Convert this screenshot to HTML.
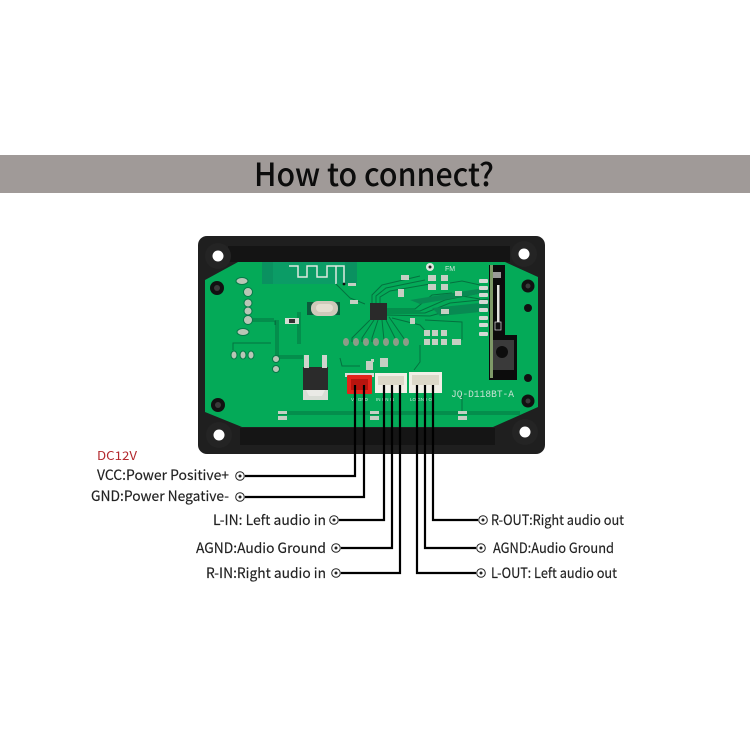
<!DOCTYPE html>
<html><head><meta charset="utf-8"><style>
html,body{margin:0;padding:0;background:#fff}
svg{display:block}
.l{font-family:"Noto Sans CJK SC","Liberation Sans",sans-serif;font-size:14px;fill:#222;font-weight:400;stroke:#222;stroke-width:.15}
.s{font-family:"Liberation Sans",sans-serif;font-size:4.5px;fill:#cfe9dc}
</style></head><body>
<svg width="750" height="750" viewBox="0 0 750 750" xmlns="http://www.w3.org/2000/svg">
<rect width="750" height="750" fill="#fff"/>
<rect x="0" y="155" width="750" height="38" fill="#a09a98"/>
<text x="254" y="186" font-family="Noto Sans CJK SC,Liberation Sans,sans-serif" font-size="32" font-weight="500" fill="#0c0c0c" textLength="240" lengthAdjust="spacingAndGlyphs">How to connect?</text>

<!-- enclosure -->
<rect x="198" y="236" width="347" height="218" rx="9" fill="#1f1f1f"/>
<rect x="228" y="246" width="282" height="16" fill="#141414"/>
<rect x="240" y="428" width="255" height="17" fill="#151515"/>
<circle cx="218" cy="256" r="13" fill="#242424"/><circle cx="524" cy="254" r="13" fill="#242424"/>
<circle cx="219" cy="435" r="13" fill="#242424"/><circle cx="525" cy="432" r="13" fill="#242424"/>
<circle cx="218" cy="256" r="5.5" fill="#fff"/><circle cx="524" cy="254" r="5.5" fill="#fff"/>
<circle cx="219" cy="435" r="5.5" fill="#fff"/><circle cx="525" cy="432" r="5.5" fill="#fff"/>

<!-- PCB -->
<polygon points="238,262 505,262 538,277 538,407 493,427 242,427 205,412 205,280" fill="#04aa58"/>
<rect x="262" y="262" width="95" height="22" fill="#0a9160"/>
<rect x="273" y="262" width="72" height="22" fill="#0b9c66"/>
<polyline points="289,266 298,266 298,277 307,277 307,266 317,266 317,277 327,277 327,266 344,266 344,284" fill="none" stroke="#dfe8e0" stroke-width="1.5"/>
<line x1="336" y1="266" x2="336" y2="284" stroke="#dfe8e0" stroke-width="1.5"/>
<circle cx="344" cy="284" r="1.4" fill="#111"/>

<!-- dark traces -->
<g fill="none" stroke="#05713f" stroke-width="1">
<polyline points="336,284 350,298 365,304"/>
<polyline points="249,321 275,321 275,325"/>
<polyline points="249,319 274,319"/>
<polyline points="276,320 276,358 303,358"/>
<polyline points="278,320 278,356 303,356"/>
<polyline points="298,312 298,344"/>
<polyline points="300,312 300,344"/>
<polyline points="233,350 233,343 271,343"/>
<polyline points="387,311 420,311 445,300 490,291"/>
<polyline points="387,313 425,313 450,303 490,299"/>
<polyline points="387,309 415,309 432,295 452,293"/>
<polyline points="387,315 430,316 455,309 480,308"/>
<polyline points="372,303 372,295 382,285 420,276"/>
<polyline points="376,303 376,296 386,288 425,280"/>
<polyline points="380,303 380,297 390,291 430,284"/>
<polyline points="370,320 352,338 352,342"/>
<polyline points="374,320 362,338 362,342"/>
<polyline points="378,320 372,338 372,342"/>
<polyline points="382,320 384,340"/>
<polyline points="386,320 396,340"/>
<polyline points="389,317 405,340"/>
<polyline points="392,318 420,325 430,336"/>
<polyline points="425,320 462,322 462,340"/>
<polyline points="420,345 420,362 414,370"/>
<polyline points="340,358 342,366 360,366"/>
<polyline points="278,414 520,414"/>
<polyline points="278,412 520,412"/>
<polyline points="462,395 462,412"/>
<polyline points="480,285 462,281 450,283"/>
<polyline points="480,299 462,296"/>
</g>
<polygon points="410,300 490,287 490,292 420,304" fill="#088a52"/>
<polygon points="432,308 490,302 490,311 440,316" fill="#088a52"/>

<!-- FFC connector & dark slot -->
<polygon points="489,265 505,265 505,335 517,335 517,380 489,380" fill="#0c0c0c"/>
<rect x="490" y="265" width="3" height="113" fill="#7f9a68"/>
<rect x="493" y="272" width="8" height="6" fill="#9a9a98"/>
<rect x="497" y="285" width="2.5" height="37" fill="#e4e4e0"/>
<rect x="495" y="322" width="6" height="8" fill="#111" stroke="#ddd" stroke-width=".7"/>
<g fill="#d4d9d4"><rect x="479" y="279" width="9" height="4" rx="1"/><rect x="479" y="286" width="9" height="4" rx="1"/><rect x="479" y="293" width="9" height="4" rx="1"/><rect x="479" y="300" width="9" height="4" rx="1"/><rect x="479" y="308" width="9" height="4" rx="1"/><rect x="479" y="316" width="9" height="4" rx="1"/><rect x="479" y="323" width="9" height="4" rx="1"/><rect x="479" y="332" width="9" height="4" rx="1"/></g>
<rect x="493" y="340" width="21" height="30" fill="#3a3a3a"/>
<circle cx="502" cy="352" r="6" fill="#0d0d0d"/>

<!-- screws -->
<g fill="#111"><circle cx="217" cy="288" r="7"/><circle cx="528" cy="286" r="6.5"/><circle cx="528" cy="308" r="4"/><circle cx="218" cy="405" r="7"/><circle cx="528" cy="401" r="6.5"/><circle cx="528" cy="378" r="4"/></g>
<g fill="#3a3a3a"><circle cx="217" cy="288" r="3"/><circle cx="528" cy="286" r="2.5"/><circle cx="218" cy="405" r="3"/><circle cx="528" cy="401" r="2.5"/></g>

<!-- pads left -->
<g fill="#b9c6b6" stroke="#067a48" stroke-width="1">
<circle cx="248" cy="292" r="4.5"/><circle cx="248" cy="303" r="4"/><circle cx="248" cy="311" r="4"/><circle cx="248" cy="320" r="4.5"/>
<ellipse cx="242" cy="281" rx="6" ry="3.5"/><ellipse cx="243" cy="332" rx="6" ry="3.5"/>
<ellipse cx="234" cy="355" rx="3" ry="4"/><ellipse cx="243" cy="355" rx="3" ry="4"/><ellipse cx="251" cy="355" rx="3" ry="4"/>
<circle cx="276" cy="359" r="3.5"/><circle cx="276" cy="369" r="3.5"/>
</g>
<g fill="#8d9c88"><ellipse cx="346" cy="342" rx="3" ry="4"/><ellipse cx="356" cy="342" rx="3" ry="4"/><ellipse cx="366" cy="342" rx="3" ry="4"/><ellipse cx="376" cy="342" rx="3" ry="4"/><ellipse cx="386" cy="342" rx="3" ry="4"/><ellipse cx="396" cy="342" rx="3" ry="4"/><ellipse cx="406" cy="342" rx="3" ry="4"/></g>

<!-- crystal -->
<rect x="307" y="302" width="33" height="13" fill="#0c5a3c"/>
<rect x="311" y="301" width="27" height="15" rx="7" fill="#cfc9ba"/>
<rect x="316" y="304" width="17" height="8" rx="4" fill="#e4ded0"/>
<rect x="285" y="318" width="14" height="6" fill="#d4dcd2"/><rect x="289" y="319" width="6" height="4" fill="#333"/>

<!-- IC -->
<rect x="370" y="303" width="17" height="17" fill="#2a2a2a"/>

<!-- small SMDs -->
<g fill="#c5cfc3"><rect x="348" y="283" width="8" height="3"/><rect x="350" y="300" width="8" height="4"/>
<rect x="428" y="275" width="8" height="6"/><rect x="428" y="284" width="8" height="6"/><rect x="441" y="275" width="7" height="6"/><rect x="441" y="284" width="7" height="6"/>
<rect x="401" y="275" width="8" height="5"/><rect x="398" y="289" width="6" height="8"/><rect x="455" y="291" width="7" height="5"/><rect x="441" y="309" width="8" height="5"/>
<rect x="410" y="318" width="5" height="6"/><rect x="424" y="330" width="6" height="6"/><rect x="432" y="330" width="6" height="6"/><rect x="441" y="330" width="6" height="6"/><rect x="424" y="339" width="6" height="6"/><rect x="432" y="339" width="6" height="6"/><rect x="441" y="339" width="6" height="6"/><rect x="452" y="339" width="9" height="6"/>
<rect x="278" y="411" width="9" height="3"/><rect x="278" y="416" width="9" height="4"/><rect x="370" y="411" width="9" height="3"/><rect x="370" y="416" width="9" height="4"/><rect x="458" y="411" width="9" height="3"/><rect x="458" y="416" width="9" height="4"/>
<rect x="366" y="361" width="7" height="9"/><rect x="371" y="359" width="3" height="3"/><rect x="380" y="358" width="8" height="9"/></g>
<circle cx="430" cy="267" r="4" fill="#e0e6df"/><circle cx="430" cy="267" r="1.5" fill="#222"/>
<text x="445" y="271" font-family="Liberation Sans,sans-serif" font-size="7" fill="#d4e8dc">FM</text>

<!-- MOSFET -->
<rect x="303" y="367" width="25" height="33" fill="#d9ddd6"/>
<rect x="303" y="367" width="25" height="23" fill="#2b2b2b"/>
<polygon points="306,390 325,390 322,396 309,396" fill="#eaeae6"/>
<rect x="304" y="355" width="5" height="13" fill="#cfd4cd"/><rect x="322" y="355" width="5" height="13" fill="#cfd4cd"/>

<!-- connectors -->
<rect x="345" y="373" width="29" height="4" fill="#d9ded8"/>
<rect x="347" y="375" width="25" height="19" rx="1" fill="#e2231a"/>
<rect x="351" y="379" width="17" height="11" fill="#b8140e"/>
<rect x="375" y="373" width="32" height="20" fill="#f1efe6"/>
<rect x="378" y="376" width="26" height="9" fill="#dcd8c8"/>
<rect x="409" y="372" width="33" height="21" fill="#f1efe6"/>
<rect x="412" y="375" width="27" height="10" fill="#dcd8c8"/>

<text x="451" y="397" font-family="Liberation Mono,monospace" font-size="10" fill="#c5e2d2" textLength="63" lengthAdjust="spacingAndGlyphs">JQ-D118BT-A</text>
<text class="s" x="351" y="401">V+ GND</text><text class="s" x="376" y="401">IN GN IN</text><text class="s" x="410" y="401">LO GND O</text>

<!-- wires -->
<g fill="none" stroke="#000" stroke-width="2.2">
<polyline points="245,476 355,476 355,385"/>
<polyline points="245,497 364,497 364,385"/>
<polyline points="339,520 384,520 384,385"/>
<polyline points="341,548 392,548 392,385"/>
<polyline points="341,573 400,573 400,385"/>
<polyline points="478,520 433,520 433,385"/>
<polyline points="476,548 425,548 425,385"/>
<polyline points="476,573 417,573 417,385"/>
</g>
<g fill="#fff" stroke="#222" stroke-width="1">
<circle cx="240" cy="476" r="4.3"/><circle cx="240" cy="497" r="4.3"/><circle cx="334" cy="520" r="4.3"/><circle cx="336" cy="548" r="4.3"/><circle cx="336" cy="573" r="4.3"/><circle cx="483" cy="520" r="4.3"/><circle cx="481" cy="548" r="4.3"/><circle cx="481" cy="573" r="4.3"/>
</g>
<g fill="#222"><circle cx="240" cy="476" r="1.5"/><circle cx="240" cy="497" r="1.5"/><circle cx="334" cy="520" r="1.5"/><circle cx="336" cy="548" r="1.5"/><circle cx="336" cy="573" r="1.5"/><circle cx="483" cy="520" r="1.5"/><circle cx="481" cy="548" r="1.5"/><circle cx="481" cy="573" r="1.5"/></g>

<!-- labels -->
<text x="97" y="460" font-family="Noto Sans CJK SC,Liberation Sans,sans-serif" font-size="12" fill="#b3282d" textLength="40" lengthAdjust="spacingAndGlyphs">DC12V</text>
<text class="l" x="97" y="480" textLength="132" lengthAdjust="spacingAndGlyphs">VCC:Power Positive+</text>
<text class="l" x="91" y="501" textLength="138" lengthAdjust="spacingAndGlyphs">GND:Power Negative-</text>
<text class="l" x="213" y="525" textLength="113" lengthAdjust="spacingAndGlyphs">L-IN: Left audio in</text>
<text class="l" x="196" y="553" textLength="130" lengthAdjust="spacingAndGlyphs">AGND:Audio Ground</text>
<text class="l" x="206" y="578" textLength="120" lengthAdjust="spacingAndGlyphs">R-IN:Right audio in</text>
<text class="l" x="491" y="525" textLength="133" lengthAdjust="spacingAndGlyphs">R-OUT:Right audio out</text>
<text class="l" x="493" y="553" textLength="121" lengthAdjust="spacingAndGlyphs">AGND:Audio Ground</text>
<text class="l" x="491" y="578" textLength="126" lengthAdjust="spacingAndGlyphs">L-OUT: Left audio out</text>
</svg>
</body></html>
